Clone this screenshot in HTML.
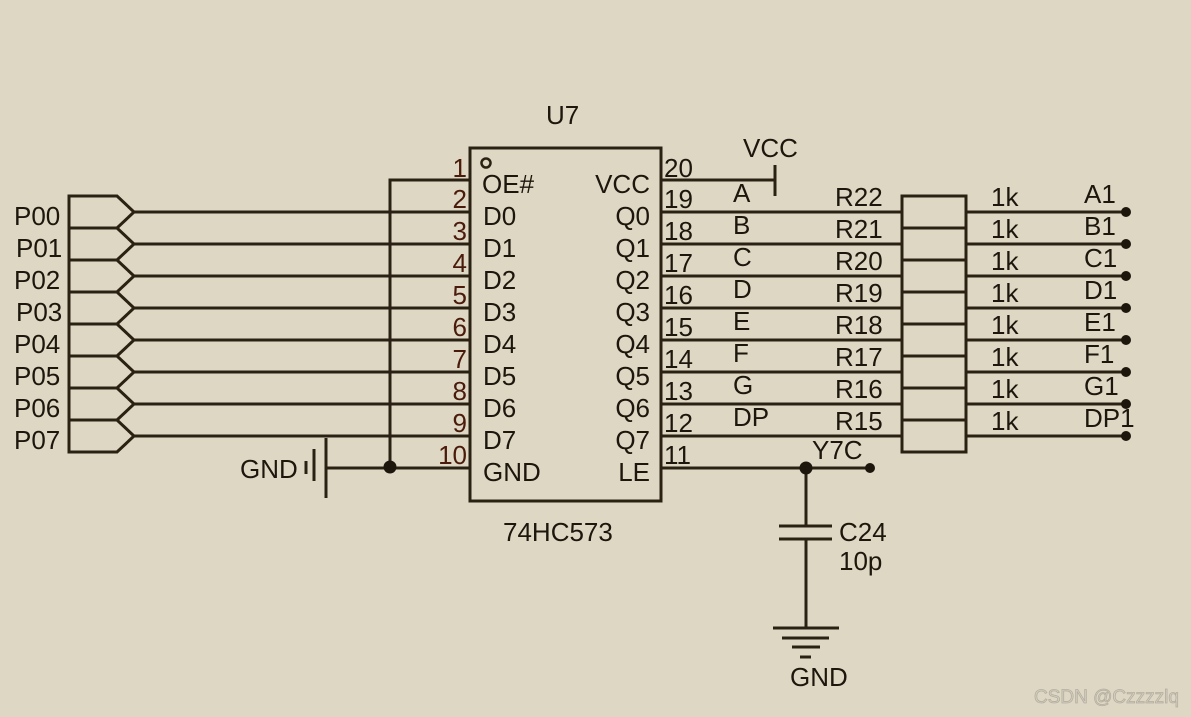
<!DOCTYPE html>
<html><head><meta charset="utf-8"><style>
html,body{margin:0;padding:0;background:#ded7c4;}
svg{display:block}
text{font-family:"Liberation Sans",Arial,sans-serif;font-size:26px;fill:#1c160c}
.pn{fill:#4a1a0a}
</style></head><body>
<svg width="1191" height="717" viewBox="0 0 1191 717" xmlns="http://www.w3.org/2000/svg">
<rect width="1191" height="717" fill="#ded7c4"/>
<g stroke="#2a2113" stroke-width="3" fill="none">
<polygon points="69,196 117,196 134,212 117,228 69,228"/>
<polygon points="69,228 117,228 134,244 117,260 69,260"/>
<polygon points="69,260 117,260 134,276 117,292 69,292"/>
<polygon points="69,292 117,292 134,308 117,324 69,324"/>
<polygon points="69,324 117,324 134,340 117,356 69,356"/>
<polygon points="69,356 117,356 134,372 117,388 69,388"/>
<polygon points="69,388 117,388 134,404 117,420 69,420"/>
<polygon points="69,420 117,420 134,436 117,452 69,452"/>
<path d="M134 212H470M134 244H470M134 276H470M134 308H470M134 340H470M134 372H470M134 404H470M134 436H470"/>
<path d="M390 468V180H470M326 468H470"/>
<path d="M306 461V474M314 449V481M326 438V498"/>
<rect x="470" y="148" width="191" height="353"/>
<circle cx="486" cy="163" r="4.5" stroke-width="2.5"/>
<path d="M661 180H775M775 165V196"/>
<path d="M661 212H902M661 244H902M661 276H902M661 308H902M661 340H902M661 372H902M661 404H902M661 436H902"/>
<path d="M966 212H1126M966 244H1126M966 276H1126M966 308H1126M966 340H1126M966 372H1126M966 404H1126M966 436H1126"/>
<rect x="902" y="196" width="64" height="256"/>
<path d="M902 228H966M902 260H966M902 292H966M902 324H966M902 356H966M902 388H966M902 420H966"/>
<path d="M661 468H870M806 468V526M806 539V628"/>
<path d="M779 526H832M779 539H832"/>
<path d="M773 628H839M782 638H829M792 647H820M800 657H811"/>
</g>
<g fill="#1c160c">
<circle cx="390" cy="467" r="6.5"/>
<circle cx="806" cy="468" r="6.5"/>
<circle cx="870" cy="468" r="5"/>
<circle cx="1126" cy="212" r="5"/><circle cx="1126" cy="244" r="5"/><circle cx="1126" cy="276" r="5"/><circle cx="1126" cy="308" r="5"/>
<circle cx="1126" cy="340" r="5"/><circle cx="1126" cy="372" r="5"/><circle cx="1126" cy="404" r="5"/><circle cx="1126" cy="436" r="5"/>
</g>
<text x="14" y="225">P00</text><text x="16" y="257">P01</text><text x="14" y="289">P02</text><text x="16" y="321">P03</text>
<text x="14" y="353">P04</text><text x="14" y="385">P05</text><text x="14" y="417">P06</text><text x="14" y="449">P07</text>
<text x="240" y="478">GND</text>
<text x="546" y="124">U7</text>
<text x="503" y="541">74HC573</text>
<g text-anchor="end">
<text class="pn" x="467" y="177">1</text><text class="pn" x="467" y="208">2</text><text class="pn" x="467" y="240">3</text><text class="pn" x="467" y="272">4</text>
<text class="pn" x="467" y="304">5</text><text class="pn" x="467" y="336">6</text><text class="pn" x="467" y="368">7</text><text class="pn" x="467" y="400">8</text>
<text class="pn" x="467" y="432">9</text><text class="pn" x="467" y="464">10</text>
</g>
<text x="482" y="193">OE#</text>
<text x="483" y="225">D0</text><text x="483" y="257">D1</text><text x="483" y="289">D2</text><text x="483" y="321">D3</text>
<text x="483" y="353">D4</text><text x="483" y="385">D5</text><text x="483" y="417">D6</text><text x="483" y="449">D7</text>
<text x="483" y="481">GND</text>
<g text-anchor="end">
<text x="650" y="193">VCC</text>
<text x="650" y="225">Q0</text><text x="650" y="257">Q1</text><text x="650" y="289">Q2</text><text x="650" y="321">Q3</text>
<text x="650" y="353">Q4</text><text x="650" y="385">Q5</text><text x="650" y="417">Q6</text><text x="650" y="449">Q7</text>
<text x="650" y="481">LE</text>
</g>
<text x="664" y="177">20</text><text x="664" y="208">19</text><text x="664" y="240">18</text><text x="664" y="272">17</text>
<text x="664" y="304">16</text><text x="664" y="336">15</text><text x="664" y="368">14</text><text x="664" y="400">13</text>
<text x="664" y="432">12</text><text x="664" y="464">11</text>
<text x="743" y="157">VCC</text>
<text x="733" y="202">A</text><text x="733" y="234">B</text><text x="733" y="266">C</text><text x="733" y="298">D</text>
<text x="733" y="330">E</text><text x="733" y="362">F</text><text x="733" y="394">G</text><text x="733" y="426">DP</text>
<text x="835" y="206">R22</text><text x="835" y="238">R21</text><text x="835" y="270">R20</text><text x="835" y="302">R19</text>
<text x="835" y="334">R18</text><text x="835" y="366">R17</text><text x="835" y="398">R16</text><text x="835" y="430">R15</text>
<text x="991" y="206">1k</text><text x="991" y="238">1k</text><text x="991" y="270">1k</text><text x="991" y="302">1k</text>
<text x="991" y="334">1k</text><text x="991" y="366">1k</text><text x="991" y="398">1k</text><text x="991" y="430">1k</text>
<text x="1084" y="203">A1</text><text x="1084" y="235">B1</text><text x="1084" y="267">C1</text><text x="1084" y="299">D1</text>
<text x="1084" y="331">E1</text><text x="1084" y="363">F1</text><text x="1084" y="395">G1</text><text x="1084" y="427">DP1</text>
<text x="812" y="459">Y7C</text>
<text x="839" y="541">C24</text>
<text x="839" y="570">10p</text>
<text x="790" y="686">GND</text>
<text x="1034" y="703" style="font-size:19px;fill:#d6d0c2;stroke:#b3ad9f;stroke-width:0.8">CSDN @Czzzzlq</text>
</svg>
</body></html>
